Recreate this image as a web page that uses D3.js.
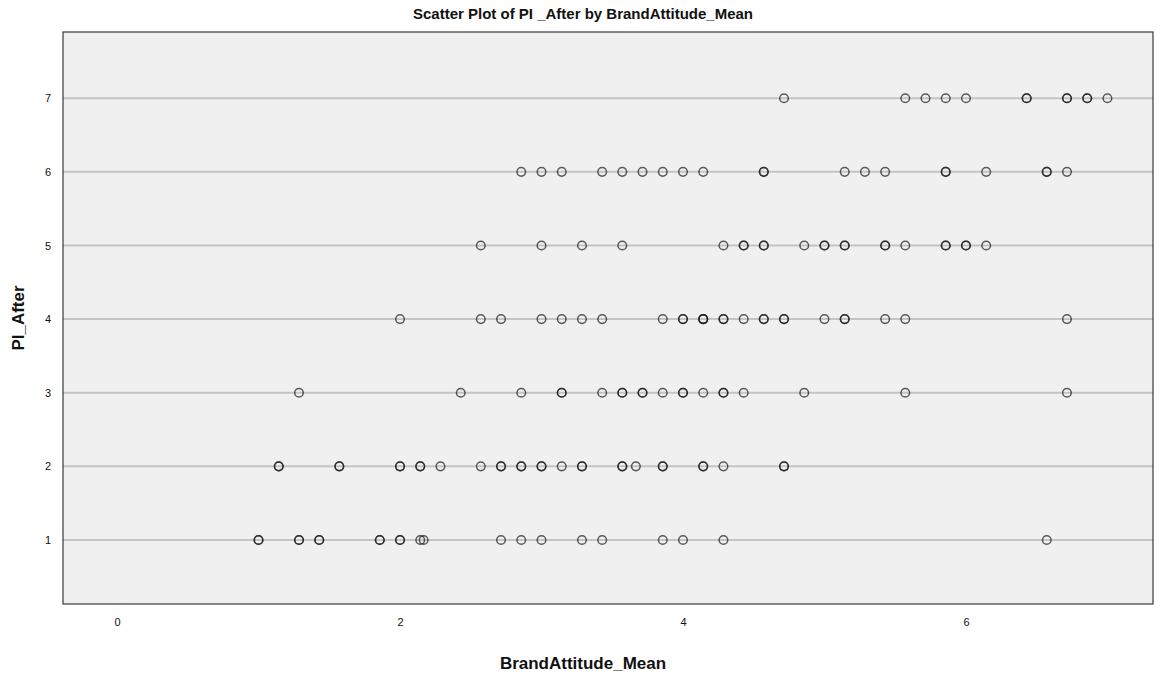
<!DOCTYPE html>
<html>
<head>
<meta charset="utf-8">
<script src="https://cdn.jsdelivr.net/npm/d3@7"></script>
<style>
  body { margin: 0; background: #fff; }
  text { font-family: "Liberation Sans", Arial, sans-serif; }
</style>
</head>
<body>
<div id="chart"></div>
<script>
// BrandAttitude_Mean values for each PI_After level (repeats = overlapping cases)
const pi7 = [4.714, 5.571, 5.714, 5.857, 6.0, 6.429, 6.429, 6.714, 6.714, 6.857, 6.857, 7.0];
const pi6 = [2.857, 3.0, 3.143, 3.429, 3.571, 3.714, 3.857, 4.0, 4.143, 4.571, 4.571, 5.143, 5.286,
    5.429, 5.857, 5.857, 6.143, 6.571, 6.571, 6.714];
const pi5 = [2.571, 3.0, 3.286, 3.571, 4.286, 4.429, 4.429, 4.571, 4.571, 4.857, 5.0, 5.0, 5.143, 5.143,
    5.429, 5.429, 5.571, 5.857, 5.857, 6.0, 6.0, 6.143];
const pi4 = [2.0, 2.571, 2.714, 3.0, 3.143, 3.286, 3.429, 3.857, 4.0, 4.0, 4.143, 4.143, 4.143, 4.286, 4.286,
    4.429, 4.571, 4.571, 4.714, 4.714, 5.0, 5.143, 5.143, 5.429, 5.571, 6.714];
const pi3 = [1.286, 2.429, 2.857, 3.143, 3.143, 3.429, 3.571, 3.571, 3.714, 3.714, 3.857, 4.0, 4.0, 4.143,
    4.286, 4.286, 4.429, 4.857, 5.571, 6.714];
const pi2 = [1.143, 1.143, 1.571, 1.571, 2.0, 2.0, 2.143, 2.143, 2.286, 2.571, 2.714, 2.714, 2.857, 2.857,
    3.0, 3.0, 3.143, 3.286, 3.286, 3.571, 3.571, 3.667, 3.857, 3.857, 4.143, 4.143, 4.286, 4.714, 4.714];
const pi1 = [1.0, 1.0, 1.286, 1.286, 1.429, 1.429, 1.857, 1.857, 2.0, 2.0, 2.143, 2.167, 2.714, 2.857, 3.0,
    3.286, 3.429, 3.857, 4.0, 4.286, 6.571];

const levels = [1, 2, 3, 4, 5, 6, 7];
const xTicks = [0, 2, 4, 6];

const rows = [pi1, pi2, pi3, pi4, pi5, pi6, pi7];
const data = [];
rows.forEach((xs, i) => xs.forEach(x => data.push({ x: x, y: levels[i] })));

const width = 1166;
const height = 677;
const plot = { left: 63, right: 1153, top: 32, bottom: 604 };

const svg = d3.select('#chart').append('svg')
    .attr('width', width)
    .attr('height', height);

const xScale = d3.scaleLinear()
    .domain([-0.382, 7.322])
    .range([plot.left, plot.right]);

const yScale = d3.scaleLinear()
    .domain([0.13, 7.9])
    .range([plot.bottom, plot.top]);

svg.append('rect')
    .attr('x', plot.left)
    .attr('y', plot.top)
    .attr('width', plot.right - plot.left)
    .attr('height', plot.bottom - plot.top)
    .attr('fill', '#f0f0f0');

// horizontal grid lines
svg.append('g')
    .selectAll('line')
    .data(levels)
    .enter()
    .append('line')
    .attr('x1', plot.left)
    .attr('x2', plot.right)
    .attr('y1', d => yScale(d))
    .attr('y2', d => yScale(d))
    .attr('stroke', '#c4c4c4')
    .attr('stroke-width', 2);

const xAxis = svg.append('g')
    .attr('transform', `translate(0, ${plot.bottom})`)
    .call(d3.axisBottom(xScale).tickValues(xTicks).tickSize(0).tickPadding(14));

const yAxis = svg.append('g')
    .attr('transform', `translate(${plot.left}, 0)`)
    .call(d3.axisLeft(yScale).tickValues(levels).tickSize(0).tickPadding(12));

[xAxis, yAxis].forEach(ax => {
    ax.select('.domain').remove();
    ax.selectAll('text')
        .style('font-size', '11px')
        .style('font-family', '"Liberation Sans", Arial, sans-serif')
        .attr('fill', '#111');
});

svg.append('rect')
    .attr('x', plot.left)
    .attr('y', plot.top)
    .attr('width', plot.right - plot.left)
    .attr('height', plot.bottom - plot.top)
    .attr('fill', 'none')
    .attr('stroke', '#3a3a3a')
    .attr('stroke-width', 1.2);

svg.append('g')
    .selectAll('circle')
    .data(data)
    .enter()
    .append('circle')
    .attr('cx', d => xScale(d.x))
    .attr('cy', d => yScale(d.y))
    .attr('r', 4.3)
    .attr('fill', 'none')
    .attr('stroke', '#1a1a1a')
    .attr('stroke-opacity', 0.7)
    .attr('stroke-width', 1.5);

svg.append('text')
    .attr('x', 583)
    .attr('y', 19)
    .attr('text-anchor', 'middle')
    .style('font-size', '15px')
    .style('font-weight', 'bold')
    .attr('fill', '#111')
    .text('Scatter Plot of PI _After by BrandAttitude_Mean');

svg.append('text')
    .attr('x', 583)
    .attr('y', 669)
    .attr('text-anchor', 'middle')
    .style('font-size', '17px')
    .style('font-weight', 'bold')
    .attr('fill', '#111')
    .text('BrandAttitude_Mean');

svg.append('text')
    .attr('transform', `translate(24, ${(plot.top + plot.bottom) / 2})rotate(-90)`)
    .attr('text-anchor', 'middle')
    .style('font-size', '17px')
    .style('font-weight', 'bold')
    .attr('fill', '#111')
    .text('PI_After');
</script>
</body>
</html>
